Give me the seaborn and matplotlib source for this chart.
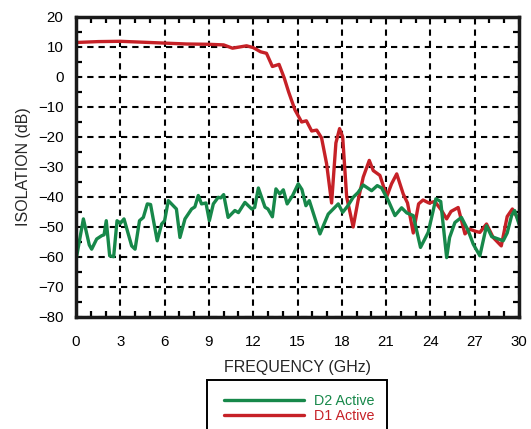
import numpy as np
import pandas as pd
import matplotlib
matplotlib.use("Agg")
import matplotlib.pyplot as plt
from matplotlib.patches import Rectangle
from matplotlib.ticker import MultipleLocator
import seaborn as sns

# D1 Active (red) trace
d1_freq = [0, 1.5, 3, 4.5, 6, 7.5, 9, 10.0, 10.6, 11.55, 12.0, 12.5, 12.9, 13.3,
           13.75, 14.1, 14.4, 14.83, 15.28, 15.6, 15.96, 16.3, 16.63, 16.97, 17.31,
           17.6, 17.85, 18.06, 18.33, 18.77, 19.1, 19.45, 19.86, 20.13, 20.58, 21.05,
           21.37, 21.72, 22.16, 22.45, 22.84, 23.2, 23.5, 23.9, 24.3, 24.76, 25.1,
           25.4, 25.88, 26.34, 26.65, 27.1, 27.35, 27.8, 28.25, 28.8, 29.2, 29.55, 30]
d1_iso = [11.5, 11.8, 11.9, 11.6, 11.3, 11.0, 10.9, 10.7, 9.6, 10.4, 9.8, 8.4, 7.9, 3.5,
          4.2, -0.3, -5, -11, -15, -14.6, -18, -17.7, -20.3, -28.9, -42,
          -22, -17.2, -20, -40, -50, -41.2, -33.4, -27.8, -31.2, -32.8, -39.8,
          -35.6, -32.3, -39, -42, -52, -42.3, -41, -42, -41.5, -44.5, -47.3,
          -44.8, -43.5, -52.3, -50.7, -51.5, -51.8, -49, -53.5, -56.3, -46.5, -44, -47.8]

# D2 Active (green) trace
d2_freq = [0, 0.5, 0.9, 1.06, 1.4, 1.74, 1.9, 2.05, 2.28, 2.55, 2.78, 3.0, 3.25, 3.77,
           4.0, 4.3, 4.56, 4.83, 5.05, 5.5, 5.8, 6.0, 6.25, 6.8, 7.04, 7.38, 7.83,
           8.05, 8.28, 8.5, 8.8, 9.03, 9.3, 9.63, 9.8, 10.0, 10.3, 10.76, 11.0, 11.44,
           11.9, 12.1, 12.35, 12.8, 13.0, 13.3, 13.54, 13.8, 14.04, 14.3, 14.67, 15.05,
           15.3, 15.57, 15.8, 16.52, 17.08, 17.76, 18.06, 18.4, 18.77, 19.1, 19.45,
           20.02, 20.4, 20.7, 21.15, 21.6, 22.05, 22.4, 22.84, 23.33, 23.85, 24.37,
           24.7, 25.1, 25.3, 25.66, 26.1, 26.56, 26.9, 27.35, 27.8, 28.15, 28.6, 28.93,
           29.2, 29.5, 29.7, 30]
d2_iso = [-61, -47.3, -56, -57.4, -54, -52.9, -52.6, -47.9, -59.6, -59.9, -47.9, -48.8,
          -47.3, -56.3, -57.4, -47.9, -46.8, -42.3, -42.5, -54.6, -49, -47.9, -41.2,
          -44, -53.5, -47.3, -44, -43.3, -39.5, -42.3, -42, -47.9, -42.3, -40.1, -40.3,
          -39.2, -46.8, -44.5, -45.2, -41.8, -44, -43.5, -37, -43.4, -44, -46.6, -37.3,
          -39, -37.6, -42.3, -39.5, -35.6, -37.5, -42.9, -41.2, -52.3, -45.7, -42.3,
          -45.1, -43, -40.1, -38.5, -36, -37.9, -36.2, -37, -41.2, -46.2, -43.6, -45.3,
          -46.2, -56.8, -51.8, -40.6, -41.5, -60.2, -53.5, -48.5, -46.8, -51.2, -55.7,
          -59.6, -49.6, -53.2, -54, -54.6, -52, -46.2, -44.5, -49]

GREEN = "#17884a"
RED = "#c62127"

sns.set_style("ticks")
plt.rcParams['font.family'] = ['Liberation Sans', 'DejaVu Sans']

fig = plt.figure(figsize=(5.31, 4.29), dpi=100)
ax = fig.add_axes([76 / 531, 1 - 317 / 429, 443 / 531, 300 / 429])

df1 = pd.DataFrame({"freq": d1_freq, "iso": d1_iso})
df2 = pd.DataFrame({"freq": d2_freq, "iso": d2_iso})

ax.grid(True, which='major', color='black', linewidth=1.5, linestyle=(0, (3.0, 2.4)))
ax.set_axisbelow(True)
sns.lineplot(data=df1, x="freq", y="iso", color=RED, linewidth=2.4,
             estimator=None, sort=False, ax=ax, label="D1 Active")
sns.lineplot(data=df2, x="freq", y="iso", color=GREEN, linewidth=2.4,
             estimator=None, sort=False, ax=ax, label="D2 Active")

ax.set_xlim(0, 30)
ax.set_ylim(-80, 20)
ax.xaxis.set_major_locator(MultipleLocator(3))
ax.xaxis.set_minor_locator(MultipleLocator(1))
ax.yaxis.set_major_locator(MultipleLocator(10))
ax.yaxis.set_minor_locator(MultipleLocator(5))
ax.tick_params(which='both', direction='in', top=True, right=True, colors='black')
ax.tick_params(which='major', length=0, labelsize=10.8)
ax.tick_params(axis='x', which='major', pad=13)
ax.tick_params(axis='y', which='major', pad=9)
ax.tick_params(which='minor', length=4, width=1.6)
for s in ax.spines.values():
    s.set_linewidth(2.5)
    s.set_color('#1a1a1a')

ax.set_xlabel("FREQUENCY (GHz)", fontsize=11.5, labelpad=8)
ax.set_ylabel("ISOLATION (dB)", fontsize=11.5, labelpad=5)

# legend below the plot, frame drawn by hand so it runs off the bottom edge
handles, labels = ax.get_legend_handles_labels()
order = [1, 0]
leg = fig.legend([handles[i] for i in order], [labels[i] for i in order],
                 loc='upper left', bbox_to_anchor=(224 / 531, 1 - 394 / 429),
                 frameon=False, fontsize=10.3, handlelength=5.6, handletextpad=0.7,
                 labelspacing=0.05, borderpad=0, borderaxespad=0)
for h in leg.get_lines():
    h.set_linewidth(2.4)
for t, c in zip(leg.get_texts(), [GREEN, RED]):
    t.set_color(c)
ax.get_legend().remove()
fig.add_artist(Rectangle((207 / 531, -0.05), 180 / 531, 0.05 + 49 / 429,
                         transform=fig.transFigure, fill=False,
                         edgecolor='black', linewidth=1.4))

fig.savefig("out.png", dpi=100)
